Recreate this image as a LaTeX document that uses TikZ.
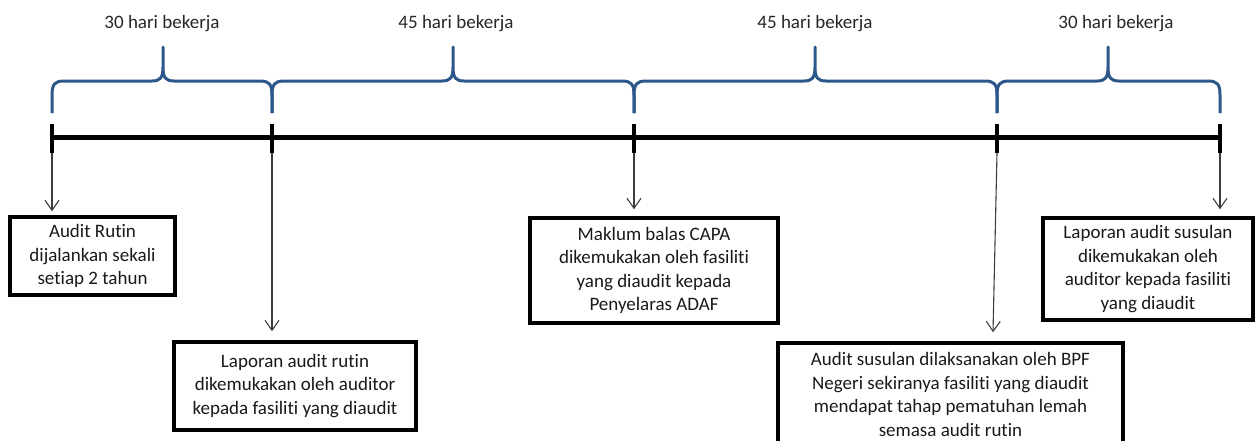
\documentclass[tikz,border=0pt]{standalone}
\usepackage{fontspec}
\setmainfont[Ligatures=NoCommon]{Carlito}
\usetikzlibrary{arrows.meta}
\definecolor{bracecol}{RGB}{43,87,138}
\definecolor{arrowcol}{RGB}{60,60,60}
\newcommand\timebrace[3]{% xa, xm, xb
  \draw[brc] (#1,113) -- (#1,95) .. controls (#1,84) and (#1+3,81) .. (#1+12,81)
    -- (#2-11,81) .. controls (#2-3,81) and (#2,78) .. (#2,67) -- (#2,47)
    -- (#2,67) .. controls (#2,78) and (#2+3,81) .. (#2+11,81)
    -- (#3-12,81) .. controls (#3-3,81) and (#3,84) .. (#3,95) -- (#3,113);
}
\begin{document}
\begin{tikzpicture}[x=1pt,y=-1pt,
  lbl/.style={font=\fontsize{19}{23}\selectfont, text=black!85},
  box/.style={draw, line width=3.5pt, align=center, font=\fontsize{19}{23.5}\selectfont, inner sep=0pt, text=black!90},
  brc/.style={draw=bracecol, line width=3pt, line join=round},
  conn/.style={draw=arrowcol, line width=1.1pt, -{Straight Barb[length=10pt,width=14pt,line width=1.1pt]}},
  axis/.style={line width=5pt},
  tickmark/.style={line width=4pt}]
\useasboundingbox (0,0) rectangle (1255,440);
\clip (0,0) rectangle (1255,440);

% time points
\coordinate (p0) at (52,137);
\coordinate (p1) at (272,137);
\coordinate (p2) at (634,137);
\coordinate (p3) at (997,137);
\coordinate (p4) at (1220,137);
\coordinate (t0) at (52,153);
\coordinate (t1) at (272,153);
\coordinate (t2) at (634,153);
\coordinate (t3) at (997,153);
\coordinate (t4) at (1220,153);

% axis
\draw[axis] (p0) -- (p4);
\foreach \x in {52,272,634,997,1220}
  \draw[tickmark] (\x,124) -- (\x,153);

% braces
\timebrace{52}{163}{272}
\timebrace{272}{453}{634}
\timebrace{634}{815}{997}
\timebrace{997}{1108}{1220}

% labels
\node[lbl] (l1) at (162,24) {30 hari bekerja};
\node[lbl] (l2) at (456,24) {45 hari bekerja};
\node[lbl] (l3) at (815,24) {45 hari bekerja};
\node[lbl] (l4) at (1116,24) {30 hari bekerja};

% boxes
\node[box, minimum width=165pt, minimum height=78pt] (b1) at (92.5,256)
  {Audit Rutin\\dijalankan sekali\\setiap 2 tahun};
\node[box, minimum width=242pt, minimum height=88pt] (b2) at (295,386)
  {Laporan audit rutin\\dikemukakan oleh auditor\\kepada fasiliti yang diaudit};
\node[box, minimum width=248pt, minimum height=105pt] (b3) at (654,270.5)
  {Maklum balas CAPA\\dikemukakan oleh fasiliti\\yang diaudit kepada\\Penyelaras ADAF};
\node[box, minimum width=210pt, minimum height=102pt] (b4) at (1148,269)
  {Laporan audit susulan\\dikemukakan oleh\\auditor kepada fasiliti\\yang diaudit};
\node[box, minimum width=345pt, minimum height=103pt] (b5) at (950.5,394.5)
  {Audit susulan dilaksanakan oleh BPF\\Negeri sekiranya fasiliti yang diaudit\\mendapat tahap pematuhan lemah\\semasa audit rutin};

% connectors
\draw[conn] (t0) -- ([yshift=4pt]t0 |- b1.north);
\draw[conn] (t1) -- ([yshift=9pt]t1 |- b2.north);
\draw[conn] (t2) -- ([yshift=7pt]t2 |- b3.north);
\draw[conn] (t3) -- ([xshift=-4pt,yshift=9pt]t3 |- b5.north);
\draw[conn] (t4) -- ([yshift=7pt]t4 |- b4.north);
\end{tikzpicture}
\end{document}
